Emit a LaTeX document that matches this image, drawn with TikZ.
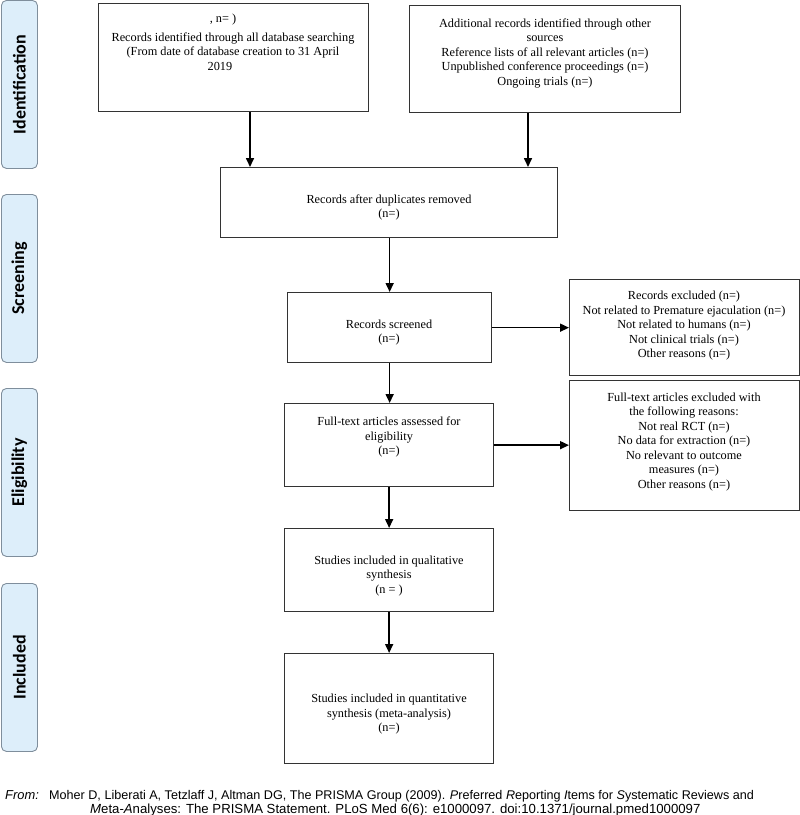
\documentclass[tikz,border=0pt]{standalone}
\usepackage{fontspec}
\setmainfont{Liberation Serif}
\newfontfamily\labelfont{Carlito}
\newfontfamily\footfont{Liberation Sans}
\usetikzlibrary{arrows.meta}
\definecolor{boxcol}{HTML}{333333}
\definecolor{sidefill}{HTML}{DDEEFA}
\definecolor{sidedraw}{HTML}{7F8E9C}
\begin{document}
\begin{tikzpicture}[x=1pt,y=-1pt,
  box/.style={draw=boxcol, line width=1.3pt, inner sep=0pt, anchor=north west},
  txt/.style={font=\fontsize{12.3}{14.5}\selectfont, align=center, inner sep=0pt},
  side/.style={draw=sidedraw, fill=sidefill, line width=0.9pt, rounded corners=5pt,
    inner sep=0pt, anchor=north west, minimum width=36pt, minimum height=168pt},
  sidetxt/.style={font=\labelfont\bfseries\fontsize{18}{20}\selectfont, rotate=90, inner sep=0pt},
  arr/.style={line width=1.6pt, draw=black, -{Triangle[length=9pt,width=8pt]}},
  foot/.style={font=\footfont\fontsize{12.9}{14}\selectfont, inner sep=0pt, anchor=base west}]
\useasboundingbox (0,0) rectangle (800,815);

% side labels
\node[side] (s1) at (1,0) {};
\node[sidetxt] (s1t) at (s1.center) {Identification};
\node[side] (s2) at (1,194) {};
\node[sidetxt] (s2t) at (s2.center) {Screening};
\node[side] (s3) at (1,388) {};
\node[sidetxt] (s3t) at (s3.center) {Eligibility};
\node[side] (s4) at (1,583) {};
\node[sidetxt] (s4t) at (s4.center) {Included};

% boxes
\node[box, minimum width=270pt, minimum height=108pt] (b1) at (98,3) {};
\node[box, minimum width=271pt, minimum height=107pt] (b2) at (409,5) {};
\node[box, minimum width=337pt, minimum height=70pt] (b3) at (220,167) {};
\node[box, minimum width=204pt, minimum height=70pt] (b4) at (287,292) {};
\node[box, minimum width=209pt, minimum height=83pt] (b5) at (284,403) {};
\node[box, minimum width=209pt, minimum height=83pt] (b6) at (284,528) {};
\node[box, minimum width=209pt, minimum height=110pt] (b7) at (284,653) {};
\node[box, minimum width=230pt, minimum height=96pt] (e1) at (569,279) {};
\node[box, minimum width=230pt, minimum height=130pt] (e2) at (569,380) {};

% texts
\node[txt] (t1) at (233,42) {, n= )\hspace*{20pt}\\[4.5pt]
  Records identified through all database searching\\
  (From date of database creation to 31 April\\
  2019\hspace*{26pt}};
\node[txt] (t2) at (545,53) {Additional records identified through other\\
  sources\\
  Reference lists of all relevant articles (n=)\\
  Unpublished conference proceedings (n=)\\
  Ongoing trials (n=)};
\node[txt] (t3) at (389,207.5) {Records after duplicates removed\\(n=)};
\node[txt] (t4) at (389,332.5) {Records screened\\(n=)};
\node[txt] (t5) at (389,437) {Full-text articles assessed for\\eligibility\\(n=)};
\node[txt] (t6) at (389,576) {Studies included in qualitative\\synthesis\\(n = )};
\node[txt] (t7) at (389,714.5) {Studies included in quantitative\\synthesis (meta-analysis)\\(n=)};
\node[txt] (te1) at (684,326) {Records excluded (n=)\\
  Not related to Premature ejaculation (n=)\\
  Not related to humans (n=)\\
  Not clinical trials (n=)\\
  Other reasons (n=)};
\node[txt] (te2) at (684,442) {Full-text articles excluded with\\
  the following reasons:\\
  Not real RCT (n=)\\
  No data for extraction (n=)\\
  No relevant to outcome\\
  measures (n=)\\
  Other reasons (n=)};

% connectors
\coordinate (x250) at (250,0);
\coordinate (x528) at (528,0);
\draw[arr] (b1.south -| x250) -- (b3.north -| x250);
\draw[arr] (b2.south -| x528) -- (b3.north -| x528);
\draw[arr] (b3.south -| b4.north) -- (b4.north);
\draw[arr] (b4.south) -- (b5.north -| b4.south);
\draw[arr] (b4.east) -- (e1.west |- b4.east);
\draw[arr] (b5.east) -- (e2.west |- b5.east);
\draw[arr] (b5.south) -- (b6.north);
\draw[arr] (b6.south) -- (b7.north);

% footer
\node[foot] (f0) at (5,799) {\itshape From:};
\node[foot, font=\footfont\fontsize{12.6}{14}\selectfont] (f1) at (49,799) {Moher D, Liberati A, Tetzlaff J, Altman DG, The PRISMA Group (2009). {\itshape P}referred {\itshape R}eporting {\itshape I}tems for {\itshape S}ystematic Reviews and};
\node[foot, font=\footfont\fontsize{13.2}{14}\selectfont] (f2) at (90,813) {{\itshape M}eta-{\itshape A}nalyses: The PRISMA Statement. PLoS Med 6(6): e1000097. doi:10.1371/journal.pmed1000097};
\end{tikzpicture}
\end{document}
